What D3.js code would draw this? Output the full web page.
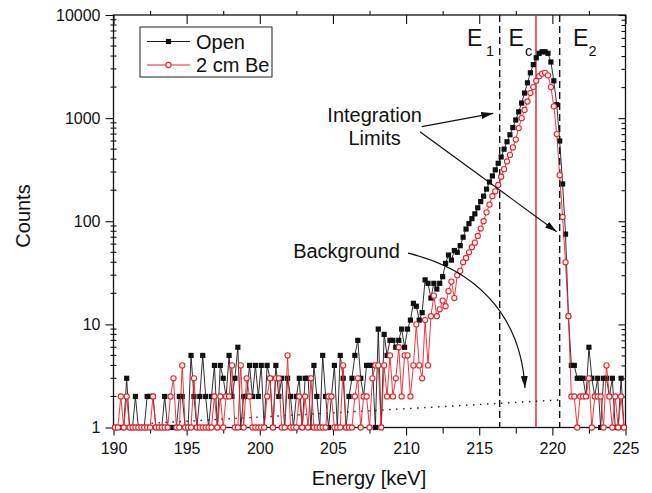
<!DOCTYPE html>
<html>
<head>
<meta charset="utf-8">
<script src="https://cdn.jsdelivr.net/npm/d3@7"></script>
<style>
  body { margin: 0; background: #fff; }
  svg { display: block; font-family: "Liberation Sans", Arial, Helvetica, sans-serif; }
</style>
</head>
<body>
<svg id="chart" width="652" height="493"></svg>
<script>
// Channel energies (keV)
const energy = [
  190.1,190.3,190.5,190.7,190.9,191.1,191.3,191.5,191.7,191.9,
  192.1,192.3,192.5,192.7,192.9,193.1,193.3,193.5,193.7,193.9,
  194.1,194.3,194.5,194.7,194.9,195.1,195.3,195.5,195.7,195.9,
  196.1,196.3,196.5,196.7,196.9,197.1,197.3,197.5,197.7,197.9,
  198.1,198.3,198.5,198.7,198.9,199.1,199.3,199.5,199.7,199.9,
  200.1,200.3,200.5,200.7,200.9,201.1,201.3,201.5,201.7,201.9,
  202.1,202.3,202.5,202.7,202.9,203.1,203.3,203.5,203.7,203.9,
  204.1,204.3,204.5,204.7,204.9,205.1,205.3,205.5,205.7,205.9,
  206.1,206.3,206.5,206.7,206.9,207.1,207.3,207.5,207.7,207.9,
  208.1,208.3,208.5,208.7,208.9,209.1,209.3,209.5,209.7,209.9,
  210.1,210.3,210.5,210.7,210.9,211.1,211.3,211.5,211.7,211.9,
  212.1,212.3,212.5,212.7,212.9,213.1,213.3,213.5,213.7,213.9,
  214.1,214.3,214.5,214.7,214.9,215.1,215.3,215.5,215.7,215.9,
  216.1,216.3,216.5,216.7,216.9,217.1,217.3,217.5,217.7,217.9,
  218.1,218.3,218.5,218.7,218.9,219.1,219.3,219.5,219.7,219.9,
  220.1,220.3,220.5,220.7,220.9,221.1,221.3,221.5,221.7,221.9,
  222.1,222.3,222.5,222.7,222.9,223.1,223.3,223.5,223.7,223.9,
  224.1,224.3,224.5,224.7,224.9
];

// Counts, open beam
const openCounts = [
  1,1,1,1,3,1,1,2,1,1,
  1,2,2,2,1,1,1,2,1,1,
  1,1,2,2,1,1,5,2,1,2,
  5,2,1,2,4,1,4,3,2,5,
  2,3,6,1,2,2,4,2,4,2,
  4,1,4,3,1,4,2,3,1,3,
  2,1,2,3,1,3,3,1,4,2,
  1,5,2,1,2,4,1,5,3,1,
  2,3,5,7,3,2,4,4,4,1,
  9,1,8,5,7,7,6,7,9,6,
  9,11,16,15,11,13,27,25,18,25,
  22,25,29,39,47,42,52,50,58,70,
  84,95,106,118,135,155,175,205,240,275,
  315,365,420,500,590,690,810,960,1150,1400,
  1750,2200,2750,3300,3850,4250,4400,4400,4250,3500,
  2300,1350,600,230,75,12,4,4,3,3,
  3,2,6,3,2,3,1,3,3,2,
  3,1,1,3,1
];

// Counts, behind 2 cm of beryllium
const beCounts = [
  1,1,2,1,2,1,1,1,1,1,
  1,1,1,2,1,1,1,1,1,2,
  3,1,1,4,1,1,1,3,1,1,
  1,1,1,1,2,1,2,1,2,2,
  4,1,1,4,1,3,2,1,1,1,
  1,1,2,3,1,3,3,1,1,5,
  1,1,1,2,1,2,1,3,1,1,
  1,1,1,2,2,1,1,1,4,1,
  1,1,2,3,1,2,2,1,3,4,
  4,1,4,2,5,2,3,6,2,5,
  5,2,4,10,4,3,11,4,12,19,
  12,14,17,15,21,26,18,30,33,40,
  44,50,56,62,72,85,100,122,145,175,
  195,225,270,320,380,440,520,620,800,1000,
  1200,1450,1750,2000,2300,2550,2700,2750,2600,2000,
  1300,700,280,110,40,12,2,2,1,2,
  2,2,3,1,2,2,2,1,4,2,
  1,2,1,2,1
];

const xMajor = [190,195,200,205,210,215,220,225];
const xMinor = [192.5,197.5,202.5,207.5,212.5,217.5,222.5];
const yMajor = [1,10,100,1000,10000];

// Integration limits and centroid (keV)
const limitE1 = 216.4, limitE2 = 220.5, centroidEc = 218.88;
// Linear background under the peak: [energy, counts]
const backgroundLine = [[192.6, 1.10], [220.4, 1.85]];

const RED = "#e8222a";
const svg = d3.select("#chart");
const L = 113.5, R = 625.5, T = 15, B = 427.5;
const x = d3.scaleLinear().domain([190, 225]).range([L, R]);
const y = d3.scaleLog().domain([1, 10000]).range([B, T]);

const yMinor = [];
[1,10,100,1000].forEach(d => { for (let k = 2; k <= 9; k++) yMinor.push(k*d); });

// ---- axes ----
const tickFont = "16px";
function styleAxis(g) {
  g.select(".domain").remove();
  g.selectAll("line").attr("stroke", "#111").attr("stroke-width", 1.1);
  g.selectAll("text").attr("fill", "#111").style("font-size", tickFont).style("font-family", "inherit");
}
svg.append("g").attr("transform", `translate(0,${B})`)
  .call(d3.axisBottom(x).tickValues(xMajor).tickSize(8).tickPadding(7).tickFormat(d3.format("d")))
  .call(styleAxis);
svg.append("g").attr("transform", `translate(0,${B})`)
  .call(d3.axisBottom(x).tickValues(xMinor).tickSize(6).tickFormat(""))
  .call(styleAxis);
svg.append("g").attr("transform", `translate(0,${T})`)
  .call(d3.axisTop(x).tickValues(xMajor).tickSize(-9).tickFormat(""))
  .call(styleAxis);
svg.append("g").attr("transform", `translate(0,${T})`)
  .call(d3.axisTop(x).tickValues(xMinor).tickSize(4).tickFormat(""))
  .call(styleAxis);
svg.append("g").attr("transform", `translate(${L},0)`)
  .call(d3.axisLeft(y).tickValues(yMajor).tickSize(8).tickPadding(5).tickFormat(d3.format("d")))
  .call(styleAxis);
// minor ticks on left straddle the axis line
svg.append("g").selectAll("line").data(yMinor).join("line")
  .attr("x1", L - 3).attr("x2", L + 3)
  .attr("y1", d => y(d)).attr("y2", d => y(d))
  .attr("stroke", "#111").attr("stroke-width", 1.1);
svg.append("g").attr("transform", `translate(${R},0)`)
  .call(d3.axisRight(y).tickValues(yMajor).tickSize(-7).tickFormat(""))
  .call(styleAxis);
svg.append("g").attr("transform", `translate(${R},0)`)
  .call(d3.axisRight(y).tickValues(yMinor).tickSize(-4).tickFormat(""))
  .call(styleAxis);

svg.append("rect").attr("x", L).attr("y", T).attr("width", R - L).attr("height", B - T)
  .attr("fill", "none").attr("stroke", "#111").attr("stroke-width", 1.3);

// axis titles
svg.append("text").attr("x", (L + R) / 2 - 0.5).attr("y", 485).attr("text-anchor", "middle")
  .style("font-size", "20px").attr("fill", "#111").text("Energy [keV]");
svg.append("text").attr("transform", "translate(30,216) rotate(-90)").attr("text-anchor", "middle")
  .style("font-size", "20px").attr("fill", "#111").text("Counts");

// ---- limit lines ----
svg.append("line").attr("x1", x(limitE1)).attr("x2", x(limitE1)).attr("y1", T).attr("y2", B)
  .attr("stroke", "#111").attr("stroke-width", 1.4).attr("stroke-dasharray", "7,4");
svg.append("line").attr("x1", x(limitE2)).attr("x2", x(limitE2)).attr("y1", T).attr("y2", B)
  .attr("stroke", "#111").attr("stroke-width", 1.4).attr("stroke-dasharray", "7,4");
svg.append("line").attr("x1", x(centroidEc)).attr("x2", x(centroidEc)).attr("y1", T).attr("y2", B)
  .attr("stroke", RED).attr("stroke-width", 1.4);

// background estimate
svg.append("line")
  .attr("x1", x(backgroundLine[0][0])).attr("y1", y(backgroundLine[0][1]))
  .attr("x2", x(backgroundLine[1][0])).attr("y2", y(backgroundLine[1][1]))
  .attr("stroke", "#111").attr("stroke-width", 1.4).attr("stroke-dasharray", "1.4,5.6");

// ---- series ----
const open = energy.map((e, i) => ({ e, c: openCounts[i] }));
const be = energy.map((e, i) => ({ e, c: beCounts[i] }));
const line = d3.line().x(d => x(d.e)).y(d => y(d.c));

svg.append("path").datum(open).attr("d", line).attr("fill", "none")
  .attr("stroke", "#1a1a1a").attr("stroke-width", 0.9);
svg.append("g").selectAll("rect").data(open).join("rect")
  .attr("x", d => x(d.e) - 2.6).attr("y", d => y(d.c) - 2.6)
  .attr("width", 5.2).attr("height", 5.2).attr("fill", "#111");

svg.append("path").datum(be).attr("d", line).attr("fill", "none")
  .attr("stroke", RED).attr("stroke-width", 0.9);
svg.append("g").selectAll("circle").data(be).join("circle")
  .attr("cx", d => x(d.e)).attr("cy", d => y(d.c)).attr("r", 2.6)
  .attr("fill", "#fff").attr("stroke", RED).attr("stroke-width", 1.1);

// ---- labels for limits ----
function subLabel(xPos, main, sub, subDx) {
  svg.append("text").attr("x", xPos).attr("y", 46).style("font-size", "23px").attr("fill", "#111").text(main);
  svg.append("text").attr("x", xPos + subDx).attr("y", 55.5).style("font-size", "14.5px").attr("fill", "#111").text(sub);
}
subLabel(x(limitE1) - 32.7, "E", "1", 19);
subLabel(x(limitE1) + 8.8, "E", "c", 16.5);
subLabel(x(limitE2) + 13.3, "E", "2", 15.5);

// ---- annotations ----
const defs = svg.append("defs");
defs.append("marker").attr("id", "head").attr("viewBox", "0 0 12 7")
  .attr("refX", 12).attr("refY", 3.5).attr("markerWidth", 12).attr("markerHeight", 7)
  .attr("markerUnits", "userSpaceOnUse").attr("orient", "auto")
  .append("path").attr("d", "M0,0 L12,3.5 L0,7 Z").attr("fill", "#111");

svg.append("text").attr("x", x(207.85)).attr("y", 122).attr("text-anchor", "middle")
  .style("font-size", "20px").attr("fill", "#111").text("Integration");
svg.append("text").attr("x", x(207.85)).attr("y", 145).attr("text-anchor", "middle")
  .style("font-size", "20px").attr("fill", "#111").text("Limits");

svg.append("line").attr("x1", x(211.07)).attr("y1", y(826)).attr("x2", x(215.96)).attr("y2", y(1114))
  .attr("stroke", "#111").attr("stroke-width", 1.2).attr("marker-end", "url(#head)");
svg.append("line").attr("x1", x(210.95)).attr("y1", y(739)).attr("x2", x(220.3)).attr("y2", y(79))
  .attr("stroke", "#111").attr("stroke-width", 1.2).attr("marker-end", "url(#head)");

svg.append("text").attr("x", x(205.93)).attr("y", 258).attr("text-anchor", "middle")
  .style("font-size", "20px").attr("fill", "#111").text("Background");
const bgArrow = d3.path();
bgArrow.moveTo(x(210.13), y(49));
bgArrow.bezierCurveTo(x(214.4), y(35.2), x(217.82), y(13.8), x(218.13), y(2.42));
svg.append("path").attr("d", bgArrow.toString()).attr("fill", "none")
  .attr("stroke", "#111").attr("stroke-width", 1.2).attr("marker-end", "url(#head)");

// ---- legend ----
const lg = svg.append("g");
lg.append("rect").attr("x", 140).attr("y", 27).attr("width", 132).attr("height", 50)
  .attr("fill", "#fff").attr("stroke", "#222").attr("stroke-width", 1);
const rows = [
  { label: "Open", color: "#1a1a1a", y: 41.5, kind: "square" },
  { label: "2 cm Be", color: RED, y: 65, kind: "circle" }
];
rows.forEach(r => {
  lg.append("line").attr("x1", 147).attr("x2", 190).attr("y1", r.y).attr("y2", r.y)
    .attr("stroke", r.color).attr("stroke-width", 1);
  if (r.kind === "square") {
    lg.append("rect").attr("x", 168.5 - 2.6).attr("y", r.y - 2.6).attr("width", 5.2).attr("height", 5.2).attr("fill", "#111");
  } else {
    lg.append("circle").attr("cx", 168.5).attr("cy", r.y).attr("r", 2.6)
      .attr("fill", "#fff").attr("stroke", RED).attr("stroke-width", 1.1);
  }
  lg.append("text").attr("x", 196).attr("y", r.y + 7).style("font-size", "20px").attr("fill", "#111").text(r.label);
});
</script>
</body>
</html>
